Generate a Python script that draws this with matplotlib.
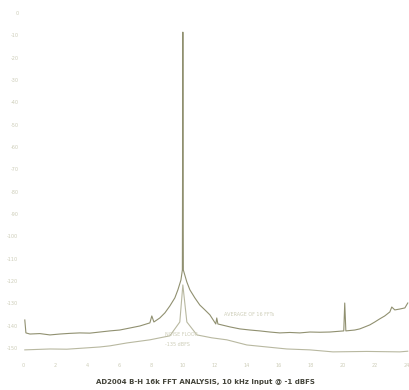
"""
FFT plot of the AD2004 16k analysis, 10 kHz input
"""
import numpy as np
import matplotlib.pyplot as plt

COLOR_MAIN = "#909070"
COLOR_AVG = "#b8b8a0"
COLOR_TICK = "#cdcdb8"

# upper trace (single FFT), kHz / dBFS
freq_main = [0.12, 0.19, 0.44, 1.06, 1.69, 2.31, 2.94, 3.56, 4.19, 4.81, 5.44,
             6.06, 6.69, 7.31, 7.94, 8.06, 8.19, 8.56, 8.88, 9.19, 9.5, 9.69,
             9.88, 9.97, 10.0, 10.03, 10.25, 10.44, 10.75, 11.06, 11.38, 11.69,
             12.06, 12.12, 12.19, 12.94, 13.56, 14.19, 14.81, 15.44, 16.06,
             16.69, 17.31, 17.94, 18.56, 19.19, 20.06, 20.12, 20.19, 20.75,
             21.06, 21.38, 21.69, 22.0, 22.31, 22.62, 22.94, 23.06, 23.25,
             23.56, 23.88, 24.06]
db_main = [-137.5, -143.3, -143.8, -143.6, -144.2, -143.8, -143.5, -143.3,
           -143.4, -142.9, -142.4, -142.0, -141.1, -140.2, -138.8, -135.7,
           -138.4, -136.6, -134.3, -131.2, -127.6, -124.0, -119.6, -115.1,
           -8.5, -115.1, -120.5, -124.0, -127.6, -130.8, -133.0, -135.2,
           -139.3, -136.6, -139.3, -140.6, -141.5, -142.0, -142.4, -142.9,
           -143.3, -143.1, -143.3, -142.9, -143.0, -142.9, -142.4, -129.9,
           -142.4, -142.0, -141.5, -140.6, -139.7, -138.4, -137.0, -135.7,
           -133.9, -131.7, -133.0, -132.6, -132.1, -129.9]

# lower trace (averaged FFT)
freq_avg = [0.12, 1.69, 2.75, 4.0, 4.81, 5.44, 6.5, 7.94, 9.19, 9.81, 10.0,
            10.25, 10.88, 11.81, 12.75, 14.0, 15.25, 16.5, 17.94, 19.38,
            21.5, 23.56, 24.06]
db_avg = [-150.9, -150.5, -150.6, -150.0, -149.6, -149.1, -147.8, -146.4,
          -144.6, -138.4, -121.8, -138.4, -144.2, -145.5, -146.4, -148.7,
          -149.6, -150.5, -150.9, -151.8, -151.6, -151.8, -151.5]

y_ticks = list(range(0, -151, -10))
x_ticks = list(range(0, 25, 2))

fig = plt.figure(figsize=(4.1, 3.9), dpi=100)
ax = fig.add_axes([0.048, 0.072, 0.952, 0.92])

ax.plot(freq_avg, db_avg, "-", color=COLOR_AVG, lw=0.8)
ax.plot(freq_main, db_main, "-", color=COLOR_MAIN, lw=0.8)

ax.text(12.6, -135.2, "AVERAGE OF 16 FFTs", fontsize=3.5,
        color=COLOR_TICK, va="center")
ax.text(8.9, -144.2, "NOISE FLOOR", fontsize=3.5, color=COLOR_TICK, va="center")
ax.text(8.9, -148.7, "-135 dBFS", fontsize=3.5, color=COLOR_TICK, va="center")

ax.set_xlim(-0.2, 24.2)
ax.set_ylim(-156.3, 4.5)
ax.set_xticks(x_ticks)
ax.set_yticks(y_ticks)
ax.set_xticklabels([str(v) for v in x_ticks], fontsize=3.5, color=COLOR_TICK)
ax.set_yticklabels([str(v) for v in y_ticks], fontsize=3.5, color=COLOR_TICK)
ax.tick_params(length=0, pad=1)
for s in ax.spines.values():
	s.set_visible(False)

fig.text(0.5, 0.013, "AD2004 B-H 16k FFT ANALYSIS, 10 kHz Input @ -1 dBFS",
         ha="center", va="bottom", fontsize=5, fontweight="bold", color="#44443a")

fig.savefig("out.png", dpi=100)
